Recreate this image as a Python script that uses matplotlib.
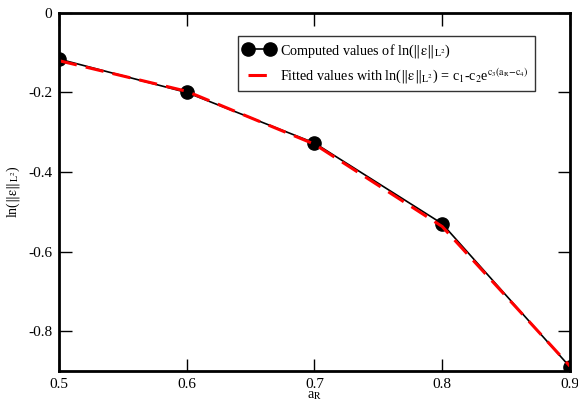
import matplotlib
matplotlib.use("Agg")
import matplotlib.pyplot as plt

plt.rcParams["font.family"] = ["Liberation Serif", "DejaVu Serif"]
plt.rcParams["mathtext.fontset"] = "stix"

# ---------- data ----------
a_r = [0.5, 0.6, 0.7, 0.8, 0.9]
computed = [-0.116, -0.200, -0.327, -0.530, -0.890]
fitted = [-0.120, -0.197, -0.330, -0.537, -0.888]

x_ticks = [0.5, 0.6, 0.7, 0.8, 0.9]
y_ticks = [0, -0.2, -0.4, -0.6, -0.8]

norm = r"ln($\Vert\mathrm{\varepsilon}\Vert_{\mathrm{L}^2}$)"

fig = plt.figure(figsize=(5.78, 4.04), dpi=100)
ax = fig.add_axes([0.102, 0.082, 0.884, 0.886])

ax.plot(a_r, computed, color="black", linewidth=1.2, marker="o",
        markersize=9.5, label="Computed values of " + norm)
ax.plot(a_r, fitted, color="red", linewidth=2.2, linestyle=(0, (6, 3)),
        label="Fitted values with " + norm
        + r" = c$_1$-c$_2$e$^{\mathrm{c}_3(\mathrm{a}_\mathrm{R}\mathrm{-c}_4)}$")

ax.set_xlim(0.5, 0.9)
ax.set_ylim(-0.9, 0)
ax.set_xticks(x_ticks)
ax.set_xticklabels(["0.5", "0.6", "0.7", "0.8", "0.9"])
ax.set_yticks(y_ticks)
ax.set_yticklabels(["0", "-0.2", "-0.4", "-0.6", "-0.8"])

ax.tick_params(direction="in", length=9, width=1.0, labelsize=11,
               top=True, right=True, pad=5)
for s in ax.spines.values():
    s.set_linewidth(2)

ax.set_xlabel(r"a$_\mathrm{R}$", fontsize=10, labelpad=-1)
ax.set_ylabel(norm, fontsize=10, labelpad=4)

leg = ax.legend(loc="upper left", bbox_to_anchor=(0.35, 0.935), fontsize=10.2,
                numpoints=2, handlelength=2.2, frameon=True, fancybox=False,
                borderpad=0.4, labelspacing=0.45, handletextpad=0.4,
                borderaxespad=0)
leg.get_frame().set_edgecolor("black")
leg.get_frame().set_linewidth(1)

fig.savefig("out.png", dpi=100)
